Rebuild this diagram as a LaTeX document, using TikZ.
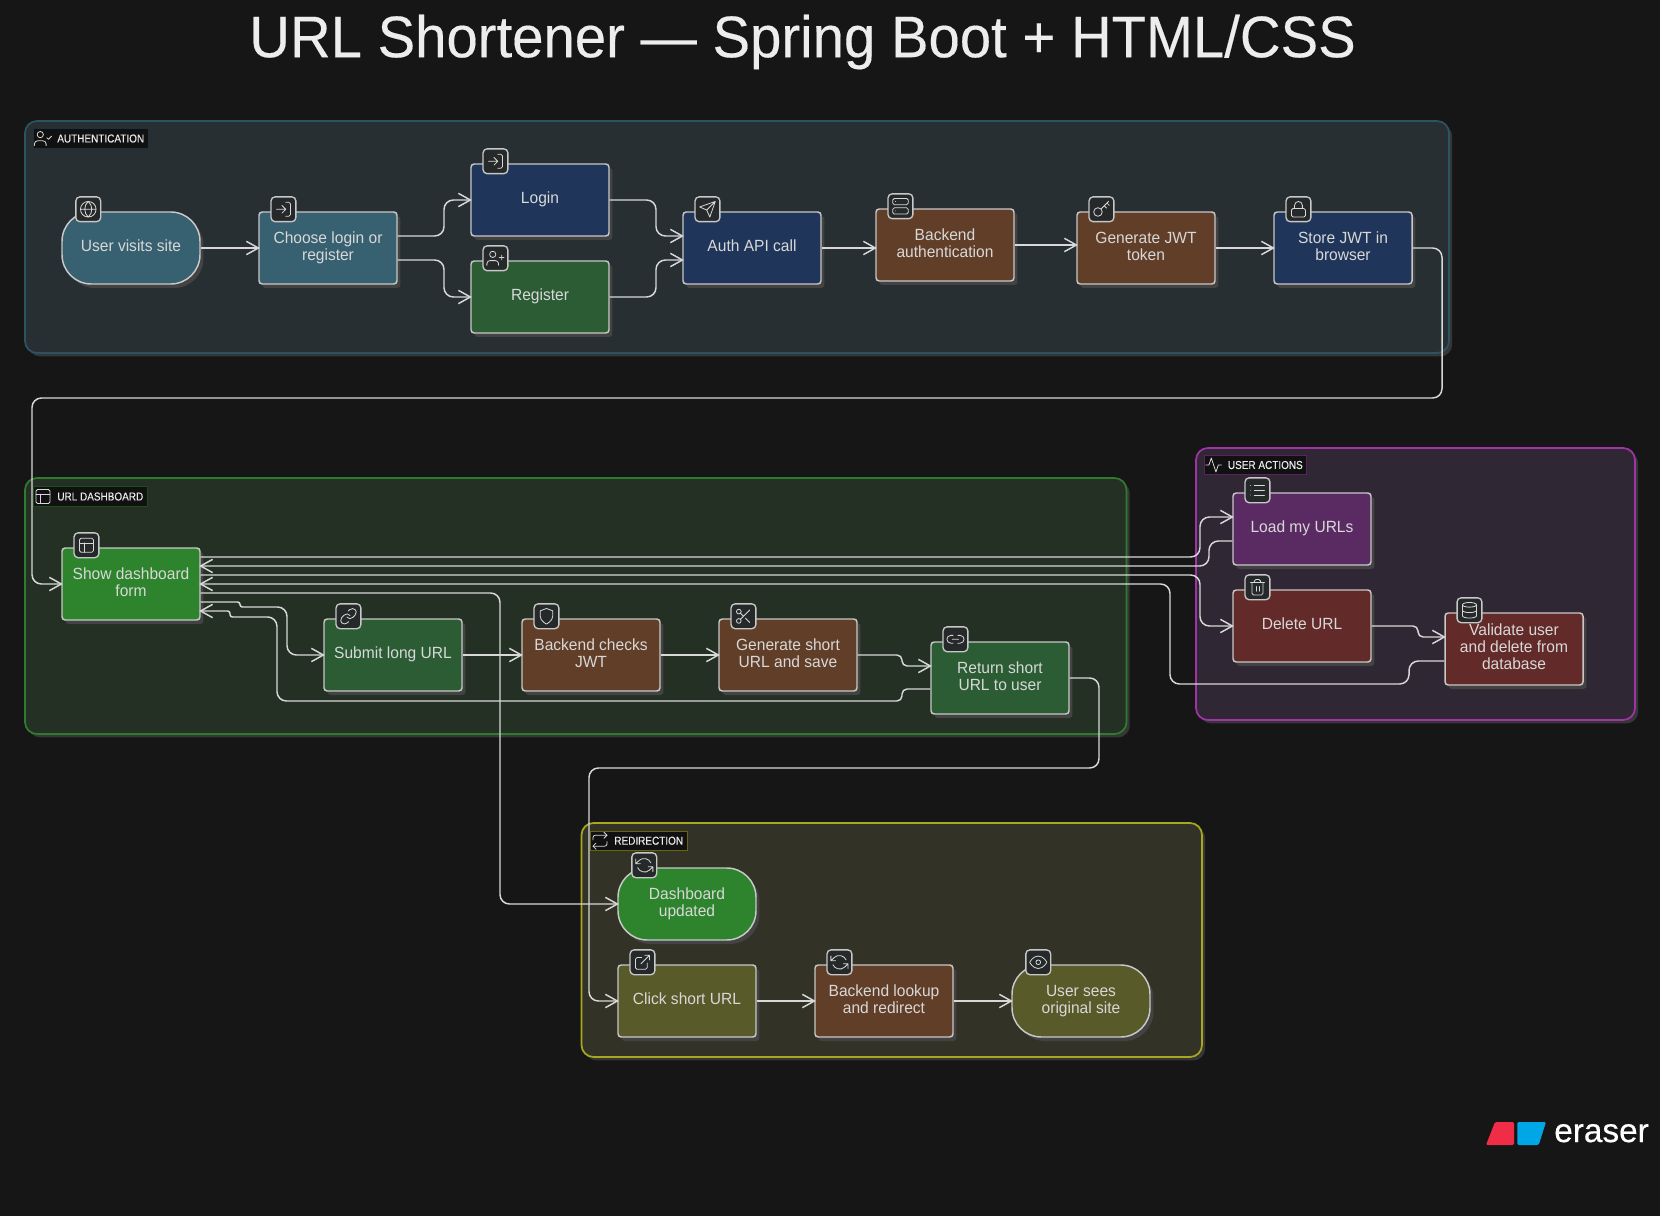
\documentclass[tikz,border=0pt]{standalone}
\usepackage{fontspec}
\setmainfont[FakeStretch=0.96]{Liberation Sans}
\newfontfamily\titlefont[FakeStretch=0.96,FakeBold=0.25]{Liberation Sans}
\newfontfamily\tagfont[FakeStretch=0.87,FakeBold=0.15]{Liberation Sans}
\newfontfamily\logofont[FakeBold=0.5]{Liberation Sans}
\usepackage{tikz}
\usetikzlibrary{arrows.meta,shadows}

\definecolor{bgdark}{HTML}{161616}
\definecolor{flowline}{HTML}{D8D8D8}
\definecolor{boxline}{HTML}{C8C8C8}
\definecolor{boxtext}{HTML}{D8D8D8}
\definecolor{shadowgray}{HTML}{434343}
\definecolor{badgefill}{HTML}{26292A}
\definecolor{tagfill}{HTML}{111111}
% group colours
\definecolor{authfill}{HTML}{272F33}
\definecolor{authline}{HTML}{2D5262}
\definecolor{dashfill}{HTML}{243024}
\definecolor{dashline}{HTML}{2E7D2E}
\definecolor{actionfill}{HTML}{302735}
\definecolor{actionline}{HTML}{A232A8}
\definecolor{redirfill}{HTML}{323226}
\definecolor{redirline}{HTML}{A8A81E}
% box colours
\definecolor{tealbox}{HTML}{376070}
\definecolor{navybox}{HTML}{20355A}
\definecolor{greenbox}{HTML}{2B5C33}
\definecolor{brightbox}{HTML}{2D842C}
\definecolor{brownbox}{HTML}{613E28}
\definecolor{purplebox}{HTML}{5A2A62}
\definecolor{redbox}{HTML}{622A28}
\definecolor{olivebox}{HTML}{595A29}
% logo colours
\definecolor{logored}{HTML}{EF2D46}
\definecolor{logoblue}{HTML}{00A7E7}

\tikzset{
    ico/.style={color=boxtext, line width=.6pt, scale=.78, shift={(-12,-12)}, line cap=round, line join=round},
    pics/icglobe/.style={code={\draw (12,12) circle (10) (2,12) -- (22,12) (12,2) .. controls (6,7) and (6,17) .. (12,22) (12,2) .. controls (18,7) and (18,17) .. (12,22);}},
    pics/iclogin/.style={code={\draw[rounded corners=1.2pt] (15,3) -- (21,3) -- (21,21) -- (15,21); \draw (10,17) -- (15,12) -- (10,7) (15,12) -- (3,12);}},
    pics/icuserplus/.style={code={\draw (8.5,7) circle (4) (1,21) -- (1,19) .. controls (1,16.5) and (3,15) .. (5,15) -- (12,15) .. controls (14,15) and (16,16.5) .. (16,19) -- (16,21) (20,8) -- (20,14) (23,11) -- (17,11);}},
    pics/icusercheck/.style={code={\draw (8.5,7) circle (4) (1,21) -- (1,19) .. controls (1,16.5) and (3,15) .. (5,15) -- (12,15) .. controls (14,15) and (16,16.5) .. (16,19) -- (16,21) (17,11) -- (19,13) -- (23,9);}},
    pics/icsend/.style={code={\draw (22,2) -- (11,13) (22,2) -- (15,22) -- (11,13) -- (2,9) -- cycle;}},
    pics/icserver/.style={code={\draw[rounded corners=1.2pt] (2,2) rectangle (22,10) (2,14) rectangle (22,22); \draw (6,6) -- (6,6.01) (6,18) -- (6,18.01);}},
    pics/ickey/.style={code={\draw (7.5,15.5) circle (5.5) (11.4,11.6) -- (21,2) (15.5,7.5) -- (18.5,10.5) (19,4) -- (22,7);}},
    pics/iclock/.style={code={\draw[rounded corners=1.2pt] (3,11) rectangle (21,22); \draw (7,11) -- (7,7) .. controls (7,0.5) and (17,0.5) .. (17,7) -- (17,11);}},
    pics/iclayout/.style={code={\draw[rounded corners=1.2pt] (3,3) rectangle (21,21); \draw (3,9) -- (21,9) (9,21) -- (9,9);}},
    pics/iclink/.style={code={\draw (10,13) .. controls (11.5,15.5) and (15.5,15.8) .. (17.5,13.5) -- (20.5,10.5) .. controls (23,7.5) and (22,4.5) .. (20.5,3.5) .. controls (19,2) and (16,1.5) .. (13.5,3.5) -- (11.75,5.2) (14,11) .. controls (12.5,8.5) and (8.5,8.2) .. (6.5,10.5) -- (3.5,13.5) .. controls (1,16.5) and (2,19.5) .. (3.5,20.5) .. controls (5,22) and (8,22.5) .. (10.5,20.5) -- (12.2,18.8);}},
    pics/icshield/.style={code={\draw (12,22) .. controls (12,22) and (20,18) .. (20,12) -- (20,5) -- (12,2) -- (4,5) -- (4,12) .. controls (4,18) and (12,22) .. (12,22) -- cycle;}},
    pics/icscissors/.style={code={\draw (6,6) circle (3) (6,18) circle (3) (20,4) -- (8.12,15.88) (14.47,14.48) -- (20,20) (8.12,8.12) -- (12,12);}},
    pics/icchain/.style={code={\draw (15,7) -- (18,7) .. controls (21,7) and (23,9.5) .. (23,12) .. controls (23,14.5) and (21,17) .. (18,17) -- (15,17) (9,17) -- (6,17) .. controls (3,17) and (1,14.5) .. (1,12) .. controls (1,9.5) and (3,7) .. (6,7) -- (9,7) (8,12) -- (16,12);}},
    pics/iclist/.style={code={\draw (8,6) -- (21,6) (8,12) -- (21,12) (8,18) -- (21,18) (3,6) -- (3,6.01) (3,12) -- (3,12.01) (3,18) -- (3,18.01);}},
    pics/ictrash/.style={code={\draw (3,6) -- (21,6) (10,11) -- (10,17) (14,11) -- (14,17); \draw[rounded corners=1.2pt] (5,6) -- (5,22) -- (19,22) -- (19,6) (8,6) -- (8,2) -- (16,2) -- (16,6);}},
    pics/icdatabase/.style={code={\draw (12,5) ellipse (9 and 3) (21,12) .. controls (21,13.7) and (17,15) .. (12,15) .. controls (7,15) and (3,13.7) .. (3,12) (3,5) -- (3,19) .. controls (3,20.7) and (7,22) .. (12,22) .. controls (17,22) and (21,20.7) .. (21,19) -- (21,5);}},
    pics/icrefresh/.style={code={\draw (1,4) -- (1,10) -- (7,10) (23,20) -- (23,14) -- (17,14) (20.49,9) .. controls (18.5,3.5) and (10,1.2) .. (5.64,5.64) -- (1,10) (23,14) -- (18.36,18.36) .. controls (14,22.8) and (5.5,20.5) .. (3.51,15);}},
    pics/icexternal/.style={code={\draw[rounded corners=1.2pt] (18,13) -- (18,21) -- (3,21) -- (3,6) -- (11,6); \draw (15,3) -- (21,3) -- (21,9) (10,14) -- (21,3);}},
    pics/iceye/.style={code={\draw (1,12) .. controls (1,12) and (5,4) .. (12,4) .. controls (19,4) and (23,12) .. (23,12) .. controls (23,12) and (19,20) .. (12,20) .. controls (5,20) and (1,12) .. (1,12) -- cycle (12,12) circle (3);}},
    pics/icactivity/.style={code={\draw (22,12) -- (18,12) -- (15,21) -- (9,3) -- (6,12) -- (2,12);}},
    pics/icrepeat/.style={code={\draw (17,1) -- (21,5) -- (17,9) (7,23) -- (3,19) -- (7,15); \draw[rounded corners=1.8pt] (3,11) -- (3,5) -- (21,5) (21,13) -- (21,19) -- (3,19);}}
}

% badge on the top left of a box
\newcommand{\badge}[3][25.2]{
    \node[badge] (#2b) at ([shift={(#1,-2)}]#2.north west) {};
    \pic[ico] at (#2b) {#3};
}

\begin{document}
\begin{tikzpicture}[
        x=0.75pt, y=-0.75pt,
        wh/.style 2 args={minimum width=#1*0.75pt, minimum height=#2*0.75pt},
        box/.style={draw=boxline, line width=1.1pt, wh={138}{72}, inner sep=2pt, align=center, rounded corners=2.4pt,
            text=boxtext, text depth=3pt, font=\fontsize{12.15pt}{12.75pt}\selectfont,
            drop shadow={shadow xshift=2.6pt, shadow yshift=-3pt, fill=shadowgray, opacity=1}},
        pill/.style={box, rounded corners=22pt},
        grp/.style={line width=1.3pt, rounded corners=9pt,
            drop shadow={shadow xshift=2.4pt, shadow yshift=-2.6pt, fill=shadowgray!80!black, opacity=1}},
        tag/.style={fill=tagfill, anchor=west, minimum height=14.7pt, inner xsep=3pt, inner ysep=0pt, line width=.5pt,
            text=white!92!black, font=\tagfont\fontsize{8.6pt}{10pt}\selectfont},
        badge/.style={draw=boxline, fill=badgefill, line width=1pt, minimum size=18.6pt, inner sep=0pt, rounded corners=3pt},
        flow/.style={draw=flowline, line width=1.1pt, rounded corners=7pt, shorten >=-1.2pt, -{Straight Barb[length=9pt, width=10pt]}}
    ]
    \path[use as bounding box, fill=bgdark] (0,0) rectangle (1660,1216);

    \node[anchor=base, text=white!93!black, font=\titlefont\fontsize{44pt}{50pt}\selectfont] (title) at (802.6,57.2) {URL Shortener — Spring Boot + HTML/CSS};

    % groups
    \node[grp, wh={1424}{232}, draw=authline, fill=authfill] (auth) at (737,237) {};
    \node[grp, wh={1101.5}{256}, draw=dashline, fill=dashfill] (dash) at (575.75,606) {};
    \node[grp, wh={439}{272}, draw=actionline, fill=actionfill] (actions) at (1415.5,584) {};
    \node[grp, wh={620.5}{234}, draw=redirline, fill=redirfill] (redir) at (891.75,940) {};

    % boxes
    \node[pill, fill=tealbox] (visits) at (131,248) {User visits site};
    \node[box, fill=tealbox] (choose) at (328,248) {Choose login or\\register};
    \node[box, fill=navybox] (login) at (540,200) {Login};
    \node[box, fill=greenbox] (register) at (540,297) {Register};
    \node[box, fill=navybox] (api) at (752,248) {Auth API call};
    \node[box, fill=brownbox] (bauth) at (945,245) {Backend\\authentication};
    \node[box, fill=brownbox] (gjwt) at (1146,248) {Generate JWT\\token};
    \node[box, fill=navybox] (store) at (1343,248) {Store JWT in\\browser};

    \node[box, fill=brightbox] (show) at (131,584) {Show dashboard\\form};
    \node[box, fill=greenbox] (submit) at (393,655) {Submit long URL};
    \node[box, fill=brownbox] (bcheck) at (591,655) {Backend checks\\JWT};
    \node[box, fill=brownbox] (gshort) at (788,655) {Generate short\\URL and save};
    \node[box, fill=greenbox] (ret) at (1000,678) {Return short\\URL to user};

    \node[box, fill=purplebox] (load) at (1302,529) {Load my URLs};
    \node[box, fill=redbox] (del) at (1302,626) {Delete URL};
    \node[box, fill=redbox] (valid) at (1514,649) {Validate user\\and delete from\\database};

    \node[pill, fill=brightbox] (upd) at (687,904) {Dashboard\\updated};
    \node[box, fill=olivebox] (click) at (687,1001) {Click short URL};
    \node[box, fill=brownbox] (blook) at (884,1001) {Backend lookup\\and redirect};
    \node[pill, fill=olivebox] (sees) at (1081,1001) {User sees\\original site};

    % connectors
    \draw[flow] (visits.east) -- (choose.west);
    \draw[flow] (choose.east |- 0,236) -| (444,200) -- (login.west);
    \draw[flow] (choose.east |- 0,260) -| (444,297) -- (register.west);
    \draw[flow] (login.east) -| (656,236) -- (api.west |- 0,236);
    \draw[flow] (register.east) -| (656,260) -- (api.west |- 0,260);
    \draw[flow] (api.east) -- (bauth.west |- api.east);
    \draw[flow] (bauth.east) -- (gjwt.west |- bauth.east);
    \draw[flow] (gjwt.east) -- (store.west);
    \draw[flow] (store.east) -| (1442,398) -| (32,584) -- (show.west);

    \draw[flow] (show.east |- 0,557) -- (1200,557) |- (load.west |- 0,517);
    \draw[flow] (load.west |- 0,541) -| (1209,566) -- (show.east |- 0,566);
    \draw[flow] (show.east |- 0,575) -- (1200,575) |- (del.west);
    \draw[flow] (valid.west |- 0,661) -| (1409,684) -| (1170,584) -- (show.east |- 0,584);
    \draw[flow] (del.east) [rounded corners=3.8pt] -| (1418,637) -- (valid.west |- 0,637);
    \draw[flow] (show.east |- 0,593) -| (500,904) -- (upd.west);

    \draw[flow] (show.east |- 0,602) [rounded corners=1.8pt] -| (240,607) -- (270,607) [rounded corners=7pt] -| (287,655) -- (submit.west);
    \draw[flow] (ret.west |- 0,689) [rounded corners=3.8pt] -| (902,701) -- (880,701) [rounded corners=7pt] -| (277,617) -- (260,617) [rounded corners=1.8pt] -| (230,611) -- (show.east |- 0,611);
    \draw[flow] (submit.east) -- (bcheck.west);
    \draw[flow] (bcheck.east) -- (gshort.west);
    \draw[flow] (gshort.east) [rounded corners=3.8pt] -| (902,666) -- (ret.west |- 0,666);
    \draw[flow] (ret.east) -| (1099,768) -| (589,1001) -- (click.west);
    \draw[flow] (click.east) -- (blook.west);
    \draw[flow] (blook.east) -- (sees.west);

    % badges
    \badge[27]{visits}{icglobe}
    \badge{choose}{iclogin}
    \badge{login}{iclogin}
    \badge{register}{icuserplus}
    \badge{api}{icsend}
    \badge{bauth}{icserver}
    \badge{gjwt}{ickey}
    \badge{store}{iclock}
    \badge{show}{iclayout}
    \badge{submit}{iclink}
    \badge{bcheck}{icshield}
    \badge{gshort}{icscissors}
    \badge{ret}{icchain}
    \badge{load}{iclist}
    \badge{del}{ictrash}
    \badge{valid}{icdatabase}
    \badge[27]{upd}{icrefresh}
    \badge{click}{icexternal}
    \badge{blook}{icrefresh}
    \badge[27]{sees}{iceye}

    % group labels
    \node[tag, draw=authline!60!black] (authtag) at (33,138.5) {\hspace*{15pt}AUTHENTICATION};
    \pic[ico] at ([shift={(10,0)}]authtag.west) {icusercheck};
    \node[tag, draw=dashline!60!black] (dashtag) at (33,496.5) {\hspace*{15pt}URL DASHBOARD};
    \pic[ico] at ([shift={(10,0)}]dashtag.west) {iclayout};
    \node[tag, draw=actionline!60!black] (actiontag) at (1203.6,465) {\hspace*{15pt}USER ACTIONS};
    \pic[ico] at ([shift={(10,0)}]actiontag.west) {icactivity};
    \node[tag, draw=redirline!60!black] (redirtag) at (590,840.7) {\hspace*{15pt}REDIRECTION};
    \pic[ico] at ([shift={(10,0)}]redirtag.west) {icrepeat};

    % logo
    \fill[fill=logored, rounded corners=1pt] (1495,1122) -- (1514,1122) -- (1514,1145) -- (1486,1145) -- cycle;
    \fill[fill=logoblue, rounded corners=1pt] (1517.3,1122) -- (1546,1122) -- (1538.7,1145) -- (1517.3,1145) -- cycle;
    \node[anchor=base west, inner sep=0pt, text=white, font=\logofont\fontsize{25pt}{30pt}\selectfont] (logo) at (1554,1142) {eraser};
\end{tikzpicture}
\end{document}
